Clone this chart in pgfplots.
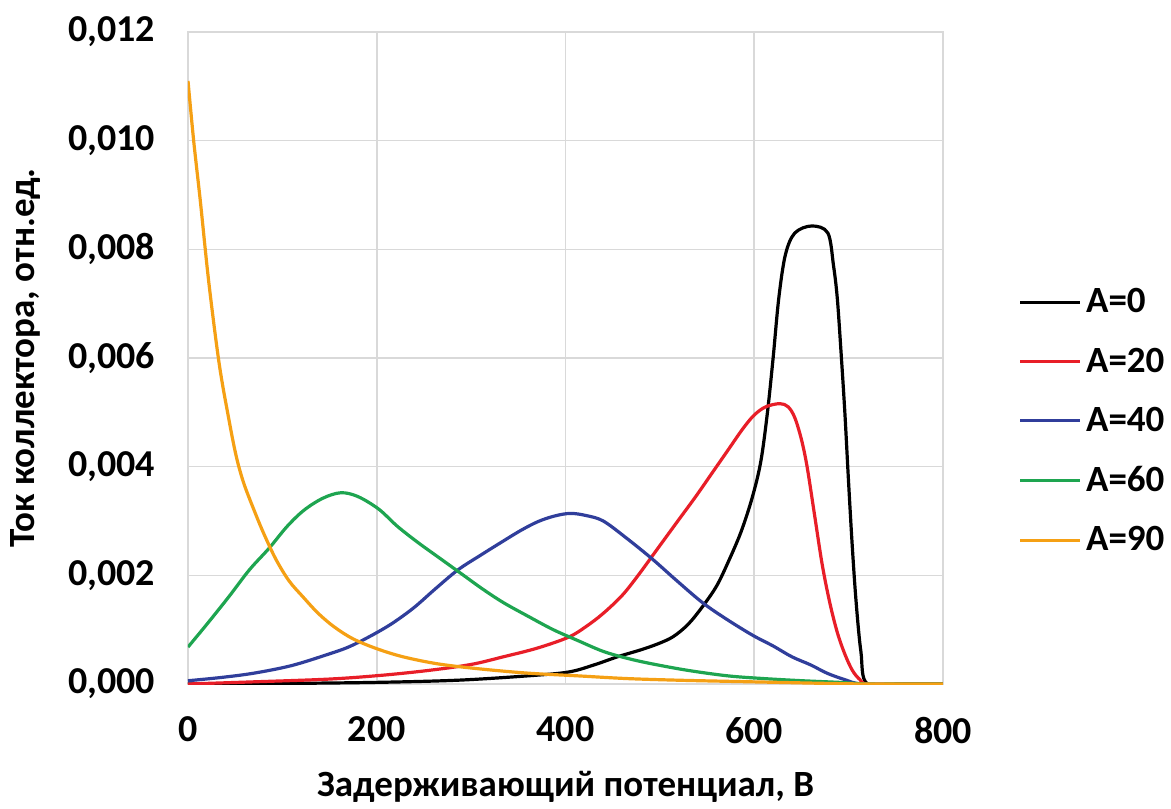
\documentclass[border=0pt]{standalone}
\usepackage{pgfplots}
\pgfplotsset{compat=1.18}
\usepackage{fontspec}
\setmainfont{Carlito}
\definecolor{cred}{RGB}{232,30,40}
\definecolor{cblue}{RGB}{48,62,155}
\definecolor{cgreen}{RGB}{30,165,80}
\definecolor{corange}{RGB}{245,160,20}
\definecolor{cgrid}{RGB}{217,217,217}
\begin{document}
\begin{tikzpicture}
\useasboundingbox (-94pt,-62pt) rectangle (491.5pt,342pt);
\begin{axis}[
  at={(0pt,0pt)}, anchor=south west,
  scale only axis, width=377.5pt, height=326pt,
  xmin=0, xmax=800, ymin=0, ymax=0.012,
  xtick={0,200,400,600,800},
  ytick={0,0.002,0.004,0.006,0.008,0.010,0.012},
  scaled y ticks=false,
  grid=major,
  major grid style={draw=cgrid, line width=0.8pt},
  axis line style={draw=cgrid, line width=0.8pt},
  major tick length=0pt,
  tick label style={font=\fontsize{19}{21}\selectfont\bfseries},
  /pgf/number format/assume math mode=true,
  yticklabel style={/pgf/number format/.cd, fixed, fixed zerofill, precision=3, use comma, /tikz/.cd, xshift=-13pt},
  xticklabel style={yshift=-13pt},
  xlabel={Задерживающий потенциал, В},
  ylabel={Ток коллектора, отн.ед.},
  label style={font=\fontsize{18.5}{20}\selectfont\bfseries},
  xlabel style={yshift=-7pt},
  ylabel style={yshift=7pt},
  legend style={draw=none, at={(1.10,0.403)}, anchor=west, font=\fontsize{18.5}{20}\selectfont\bfseries, row sep=12pt, inner xsep=0pt},
  legend cell align=left,
  legend image code/.code={\draw[#1, line width=1.6pt] (0pt,0pt) -- (30pt,0pt);},
  every axis plot/.append style={line width=1.6pt, smooth, tension=0.55},
]
\addplot[black] coordinates {
(0,0) (100,0.00001) (200,0.00003) (286,0.00007) (360,0.00015) (403,0.00022) (430,0.00035) (455,0.0005) (480,0.00063) (498,0.00074) (514,0.00087) (530,0.0011) (545,0.00142) (560,0.0018) (572,0.00223) (586,0.0028) (598,0.00344) (607,0.0041) (614,0.005) (620,0.006) (626,0.0071) (633,0.0079) (643,0.0083) (661,0.00843) (678,0.0083) (684,0.0077) (688,0.0071) (692,0.0061) (696,0.005) (700,0.0037) (704,0.0025) (708,0.0015) (713,0.0006) (720,0) (760,0) (800,0)};
\addlegendentry{A=0}
\addplot[cred] coordinates {
(0,0) (70,0.00004) (149,0.00009) (205,0.00016) (255,0.00025) (300,0.00036) (334,0.0005) (370,0.00066) (403,0.00086) (422,0.00106) (440,0.0013) (460,0.00163) (477,0.002) (498,0.0025) (519,0.003) (538,0.00345) (556,0.0039) (572,0.0043) (588,0.0047) (600,0.00495) (612,0.0051) (627,0.00516) (636,0.0051) (643,0.0049) (650,0.0045) (656,0.0040) (664,0.0031) (672,0.0022) (680,0.0015) (688,0.00095) (696,0.00055) (704,0.00025) (712,0.00008) (720,0) (760,0) (800,0)};
\addlegendentry{A=20}
\addplot[cblue] coordinates {
(0,0.00006) (35,0.00012) (70,0.0002) (110,0.00034) (149,0.00055) (170,0.00068) (191,0.00086) (215,0.0011) (239,0.0014) (262,0.00175) (286,0.0021) (310,0.00237) (334,0.00263) (353,0.00283) (371,0.00299) (388,0.00309) (405,0.00314) (422,0.0031) (440,0.003) (465,0.00268) (492,0.0023) (518,0.0019) (545,0.0015) (570,0.0012) (598,0.0009) (620,0.0007) (640,0.0005) (660,0.00035) (677,0.0002) (696,0.00008) (714,0) (760,0) (800,0)};
\addlegendentry{A=40}
\addplot[cgreen] coordinates {
(0,0.00068) (20,0.0011) (43,0.0016) (65,0.0021) (86,0.0025) (105,0.0029) (123,0.0032) (143,0.00342) (162,0.00352) (180,0.00345) (202,0.00322) (222,0.0029) (244,0.0026) (268,0.0023) (292,0.002) (312,0.00175) (334,0.0015) (360,0.00125) (387,0.001) (413,0.0008) (440,0.0006) (466,0.00047) (492,0.00037) (530,0.00025) (572,0.00015) (610,0.0001) (651,0.00006) (690,0.00003) (720,0) (760,0) (800,0)};
\addlegendentry{A=60}
\addplot[corange] coordinates {
(0,0.0111) (6,0.0100) (13,0.0089) (22,0.0074) (33,0.0059) (43,0.0049) (51,0.0042) (59,0.0037) (70,0.0032) (80,0.00278) (93,0.0023) (107,0.0019) (122,0.0016) (138,0.0013) (155,0.00105) (175,0.00083) (200,0.00065) (228,0.0005) (265,0.00037) (308,0.00028) (360,0.0002) (413,0.00015) (465,0.0001) (519,0.00007) (570,0.00005) (625,0.00003) (680,0.00001) (720,0) (760,0) (800,0)};
\addlegendentry{A=90}
\end{axis}
\end{tikzpicture}
\end{document}
